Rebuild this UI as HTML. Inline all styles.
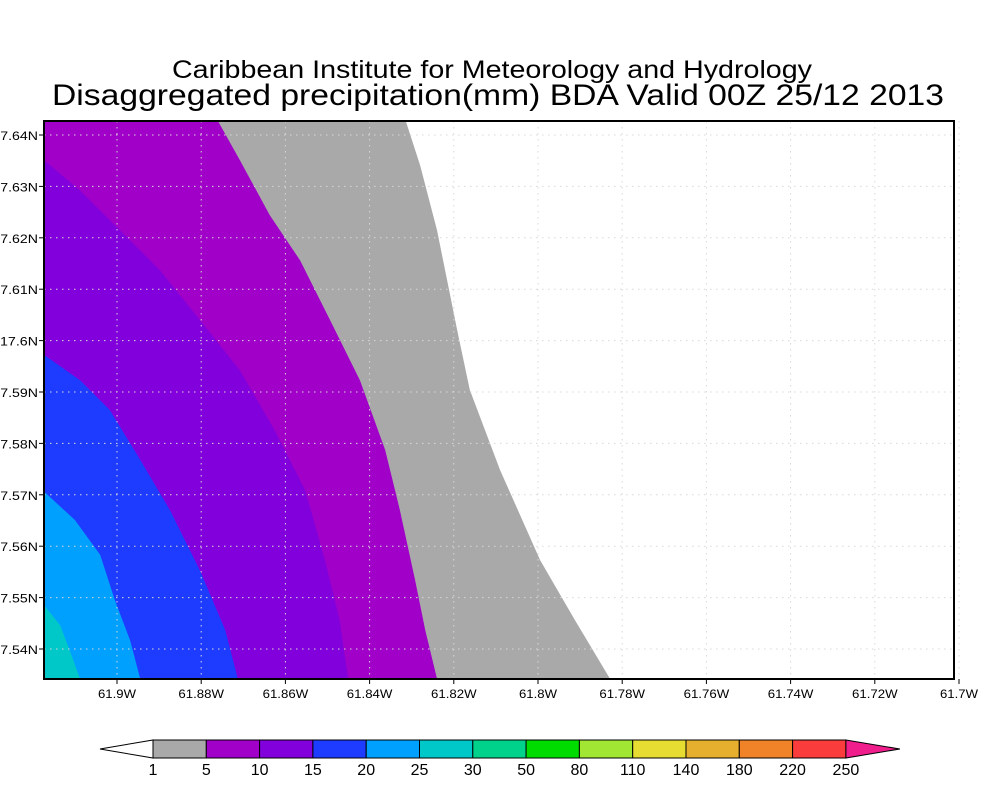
<!DOCTYPE html>
<html><head><meta charset="utf-8"><style>body{margin:0;background:#fff}svg{display:block}</style></head>
<body>
<svg id="chart" width="1000" height="800" xmlns="http://www.w3.org/2000/svg" font-family="Liberation Sans, sans-serif">
<text x="492" y="78" font-size="25" text-anchor="middle" textLength="640" lengthAdjust="spacingAndGlyphs">Caribbean Institute for Meteorology and Hydrology</text>
<text x="498" y="105" font-size="30" text-anchor="middle" textLength="892" lengthAdjust="spacingAndGlyphs">Disaggregated precipitation(mm) BDA Valid 00Z 25/12 2013</text>
<g id="plot"></g>
<g id="cbar"></g>
</svg>
<script>
const xTicks=[61.9,61.88,61.86,61.84,61.82,61.8,61.78,61.76,61.74,61.72,61.7];
const yTicks=[7.64,7.63,7.62,7.61,7.6,7.59,7.58,7.57,7.56,7.55,7.54];
const yTickLabels=["17.64N","17.63N","17.62N","17.61N","17.6N","17.59N","17.58N","17.57N","17.56N","17.55N","17.54N"];
const levels=["1","5","10","15","20","25","30","50","80","110","140","180","220","250"];
const levelColors=["#a9a9a9","#a000c8","#8200dc","#1e3cff","#00a0ff","#00c8c8","#00d28c","#00dc00","#a0e632","#e6dc32","#e6af2d","#f08228","#fa3c3c"];
const fillColors=["#a9a9a9","#a000c8","#8200dc","#1e3cff","#00a0ff","#00c8c8"];
// contour boundaries in [lonW, lat]
const contour1=[[61.8314,7.6427],[61.8280,7.6341],[61.8240,7.6215],[61.8192,7.602],[61.8162,7.5904],[61.8090,7.5748],[61.7995,7.5573],[61.7912,7.5456],[61.7829,7.5342]];
const contour5=[[61.8760,7.6427],[61.8708,7.6351],[61.8637,7.6244],[61.8565,7.6156],[61.8494,7.604],[61.8423,7.5923],[61.8363,7.5787],[61.8328,7.567],[61.8292,7.5534],[61.8268,7.5437],[61.8240,7.5342]];
const contour10=[[61.9173,7.6351],[61.9088,7.6292],[61.8993,7.6215],[61.8898,7.6137],[61.8803,7.604],[61.8708,7.5942],[61.8625,7.5825],[61.8553,7.5709],[61.8506,7.5573],[61.8471,7.5456],[61.8451,7.5342]];
const contour15=[[61.9173,7.5972],[61.9088,7.5923],[61.9017,7.5865],[61.8945,7.5768],[61.8874,7.567],[61.8803,7.5553],[61.8743,7.5437],[61.8713,7.5342]];
const contour20=[[61.9173,7.5706],[61.9100,7.5651],[61.9040,7.5583],[61.9005,7.5495],[61.8969,7.5417],[61.8945,7.5342]];
const contour25=[[61.9173,7.5485],[61.9135,7.5446],[61.9112,7.5397],[61.9088,7.5342]];
const contours=[contour1,contour5,contour10,contour15,contour20,contour25];
const L=44,R=954,T=121,B=679;
const X=lon=>117+(61.9-lon)/0.02*84.2;
const Y=lat=>135+(7.64-lat)*5140;
const NS="http://www.w3.org/2000/svg";
const plot=document.getElementById('plot');
function mk(tag,attrs,parent){const e=document.createElementNS(NS,tag);for(const k in attrs)e.setAttribute(k,attrs[k]);parent.appendChild(e);return e;}
contours.forEach((c,i)=>{
  const pts=c.map(p=>X(p[0]).toFixed(1)+','+Y(p[1]).toFixed(1)).concat([L+','+B,L+','+T]).join(' ');
  const p=mk('polygon',{points:pts,fill:fillColors[i]},plot);
  
  
});
xTicks.forEach((v,i)=>{
  const x=X(v);
  const g=mk('line',{x1:x,x2:x,y1:T,y2:B,stroke:'#d8d8d8','stroke-dasharray':'1.5,4.5'},plot);
  
  
  mk('line',{x1:x,x2:x,y1:B,y2:B+5,stroke:'#000'},plot);
  const s=v+'W';
  const t=mk('text',{x:x,y:B+19,'font-size':12,'text-anchor':'middle',textLength:s.length*7.6,lengthAdjust:'spacingAndGlyphs'},plot);
  t.textContent=s;
  
  
});
yTicks.forEach((v,i)=>{
  const y=Y(v);
  const g=mk('line',{x1:L,x2:R,y1:y,y2:y,stroke:'#d8d8d8','stroke-dasharray':'1.5,4.5'},plot);
  
  
  mk('line',{x1:L-5,x2:L,y1:y,y2:y,stroke:'#000'},plot);
  const s=yTickLabels[i];
  const t=mk('text',{x:L-6,y:y+5,'font-size':12,'text-anchor':'end',textLength:s.length*7.6,lengthAdjust:'spacingAndGlyphs'},plot);
  t.textContent=s;
  
  
});
const fr=mk('rect',{x:L,y:T,width:R-L,height:B-T,fill:'none',stroke:'#000','stroke-width':2},plot);


const cb=document.getElementById('cbar');
const cx0=153,cw=53.3,cy=740,ch=18;
const lt=mk('polygon',{points:`100,${cy+ch/2} ${cx0},${cy} ${cx0},${cy+ch}`,fill:'#fff',stroke:'#000'},cb);


levelColors.forEach((c,i)=>{
  const r=mk('rect',{x:cx0+i*cw,y:cy,width:cw,height:ch,fill:c,stroke:'#000'},cb);
  
  
});
const xe=cx0+levelColors.length*cw;
const rt=mk('polygon',{points:`${xe},${cy} ${xe+54},${cy+ch/2} ${xe},${cy+ch}`,fill:'#f01e8c',stroke:'#000'},cb);


levels.forEach((l,i)=>{
  const t=mk('text',{x:cx0+i*cw,y:cy+ch+17,'font-size':16,'text-anchor':'middle'},cb);
  t.textContent=l;
  
  
});
</script>
</body></html>
